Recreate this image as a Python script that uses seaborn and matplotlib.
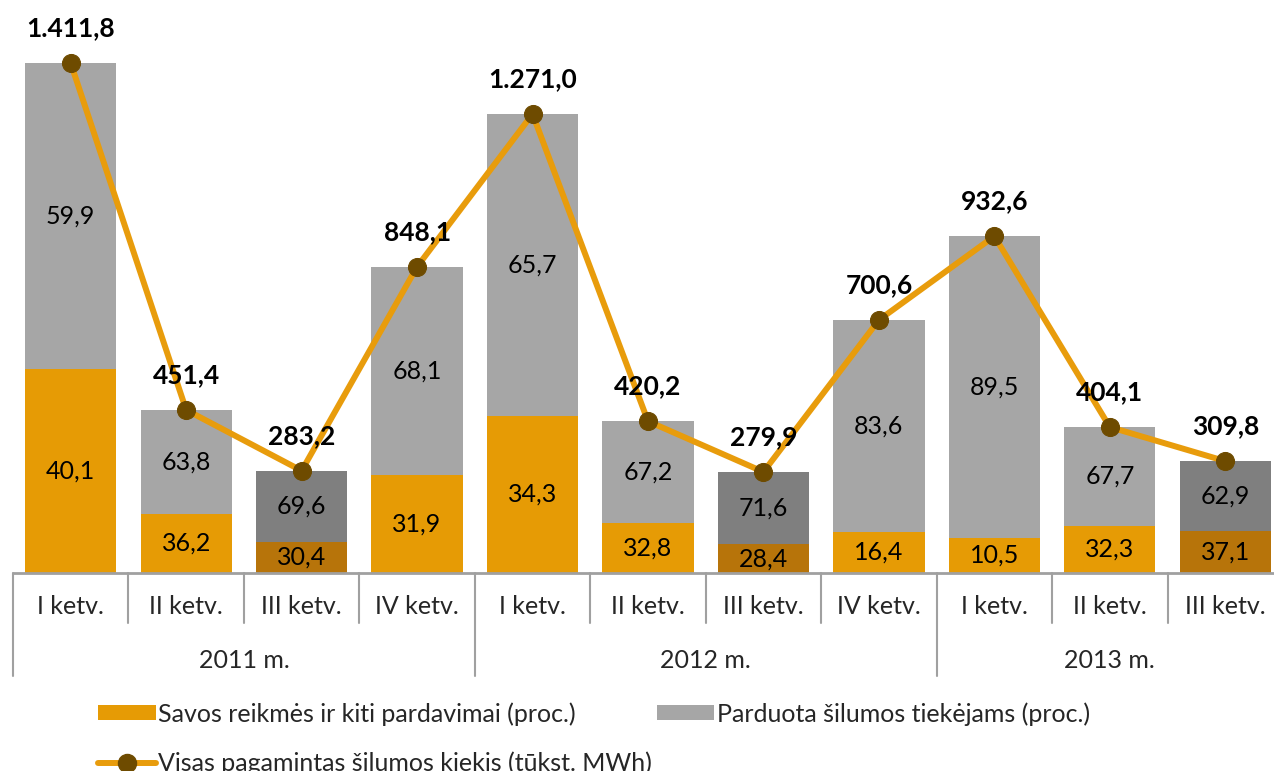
import numpy as np
import pandas as pd
import matplotlib
matplotlib.use('Agg')
import matplotlib.pyplot as plt
import matplotlib.transforms as mtransforms
from matplotlib.patches import Patch
from matplotlib.lines import Line2D
import seaborn as sns

# duomenys
quarters = ['I ketv.', 'II ketv.', 'III ketv.', 'IV ketv.',
            'I ketv.', 'II ketv.', 'III ketv.', 'IV ketv.',
            'I ketv.', 'II ketv.', 'III ketv.']
years = ['2011 m.', '2012 m.', '2013 m.']
year_sizes = [4, 4, 3]
total = [1411.8, 451.4, 283.2, 848.1, 1271.0, 420.2, 279.9, 700.6, 932.6, 404.1, 309.8]
total_labels = ['1.411,8', '451,4', '283,2', '848,1', '1.271,0', '420,2',
                '279,9', '700,6', '932,6', '404,1', '309,8']
own_pct = [40.1, 36.2, 30.4, 31.9, 34.3, 32.8, 28.4, 16.4, 10.5, 32.3, 37.1]
sold_pct = [59.9, 63.8, 69.6, 68.1, 65.7, 67.2, 71.6, 83.6, 89.5, 67.7, 62.9]

ORANGE = '#E69B05'
ORANGE_DARK = '#B7740A'
GRAY = '#A6A6A6'
GRAY_DARK = '#7F7F7F'
LINE_C = '#E89C0C'
MARKER_C = '#6E4B00'
AXIS_C = '#A0A0A0'
FS = 18

sns.set_style('white')
plt.rcParams['font.family'] = ['Lato', 'DejaVu Sans']

df = pd.DataFrame({'pos': np.arange(len(total)), 'total': total,
                   'own_pct': own_pct, 'sold_pct': sold_pct})
df['own_val'] = df['total'] * df['own_pct'] / 100
is_q3 = np.array([q == 'III ketv.' for q in quarters])
gray_cols = [GRAY_DARK if q else GRAY for q in is_q3]
orange_cols = [ORANGE_DARK if q else ORANGE for q in is_q3]

fig = plt.figure(figsize=(12.74, 7.71), dpi=100)
W, H = 1274, 771
ax = fig.add_axes([13 / W, 198 / H, 1270 / W, 563 / H])

# visa stulpelio aukštis (pilka), tada oranžinė apačia
sns.barplot(data=df, x='pos', y='total', hue='pos', palette=gray_cols,
            width=0.79, dodge=False, legend=False, ax=ax, saturation=1,
            linewidth=0, edgecolor='none', zorder=1)
sns.barplot(data=df, x='pos', y='own_val', hue='pos', palette=orange_cols,
            width=0.79, dodge=False, legend=False, ax=ax, saturation=1,
            linewidth=0, edgecolor='none', zorder=1)

sns.lineplot(x=df['pos'], y=df['total'], ax=ax, color=LINE_C, lw=4.3,
             marker='o', markersize=13, markerfacecolor=MARKER_C,
             markeredgecolor=MARKER_C, zorder=3)

ax.set_xlim(-0.5, 10.5)
ax.set_ylim(0, 1559)

# procentų etiketės
for i, row in df.iterrows():
    own_h = row['own_val']
    ax.text(i, own_h / 2, f"{row['own_pct']:.1f}".replace('.', ','),
            ha='center', va='center', fontsize=FS, color='black', zorder=4)
    ax.text(i, own_h + (row['total'] - own_h) / 2,
            f"{row['sold_pct']:.1f}".replace('.', ','),
            ha='center', va='center', fontsize=FS, color='black', zorder=4)
    ax.annotate(total_labels[i], (i, row['total']), xytext=(0, 25),
                textcoords='offset points', ha='center', va='center',
                fontsize=19, fontweight='bold', color='black', zorder=5)

for s in ax.spines.values():
    s.set_visible(False)
ax.set_xticks([])
ax.set_yticks([])
ax.set_xlabel('')
ax.set_ylabel('')

# hierarchinė x ašis
trans = mtransforms.blended_transform_factory(ax.transData, ax.transAxes)
px = 1 / 563
ax.plot([-0.5, 10.5], [0, 0], transform=trans, color=AXIS_C, lw=2, clip_on=False, zorder=2)
for i, q in enumerate(quarters):
    ax.text(i, -33 * px, q, transform=trans, ha='center', va='center', fontsize=FS)
edges = np.cumsum([0] + year_sizes) - 0.5
for k in range(len(total) + 1):
    xk = k - 0.5
    length = 103 if xk in edges else 50
    ax.plot([xk, xk], [0, -length * px], transform=trans, color=AXIS_C,
            lw=1.5, clip_on=False)
for y, a, b in zip(years, edges[:-1], edges[1:]):
    ax.text((a + b) / 2, -87 * px, y, transform=trans, ha='center', va='center', fontsize=FS)

handles = [Patch(facecolor=ORANGE, edgecolor='none'),
           Line2D([0], [0], color=LINE_C, lw=4.3, marker='o', markersize=13,
                  markerfacecolor=MARKER_C, markeredgecolor=MARKER_C),
           Patch(facecolor=GRAY, edgecolor='none')]
labels = ['Savos reikmės ir kiti pardavimai (proc.)',
          'Visas pagamintas šilumos kiekis (tūkst. MWh)',
          'Parduota šilumos tiekėjams (proc.)']
fig.legend(handles, labels, ncol=2, loc='upper left',
           bbox_to_anchor=(98 / W, 1 - 702 / H), frameon=False, fontsize=FS,
           handlelength=2.3, handleheight=0.55, handletextpad=0.1,
           columnspacing=0.2, labelspacing=1.05, borderpad=0, borderaxespad=0)

fig.savefig('out.png', dpi=100)
